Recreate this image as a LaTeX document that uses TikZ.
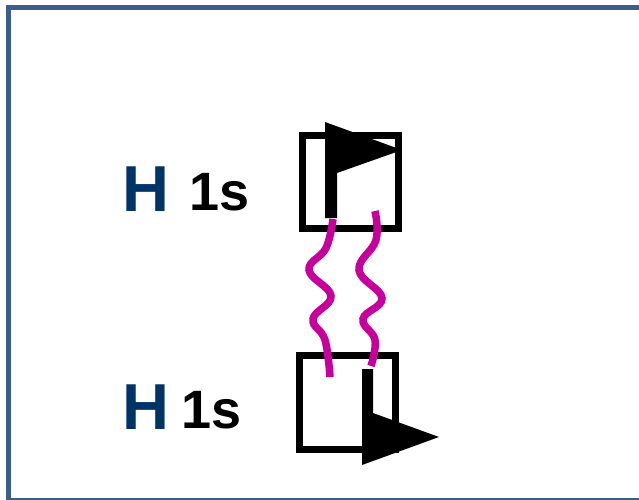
\documentclass[tikz,border=0pt]{standalone}
\usepackage{fontspec}
\setmainfont{Liberation Sans}
\definecolor{frameblue}{RGB}{59,94,140}
\definecolor{hblue}{RGB}{0,51,102}
\definecolor{bondmag}{RGB}{200,0,155}
\tikzset{
  orbital/.style={draw=black,line width=7pt,fill=white},
  spin/.style={fill=black,draw=none},
  bondwave/.style={draw=bondmag,line width=7.5pt,line cap=butt},
  atomlbl/.style={text=hblue,font=\bfseries\fontsize{65}{65}\selectfont,inner sep=0pt,anchor=base west},
  orblbl/.style={text=black,font=\bfseries\fontsize{54}{54}\selectfont,inner sep=0pt,anchor=base west}
}
\begin{document}
\begin{tikzpicture}[x=1pt,y=-1pt]
  \useasboundingbox (0,0) rectangle (639,499);
  \begin{scope}
    \clip (0,0) rectangle (639,499);
    \draw[frameblue,line width=5.5pt] (8.5,7.5) rectangle (660,500.5);
  \end{scope}

  % labels
  \node[atomlbl] (h1) at (122,211) {H};
  \node[orblbl] (s1) at (189,210) {1s};
  \node[atomlbl] (h2) at (122,429) {H};
  \node[orblbl] (s2) at (181,428) {1s};

  % orbital boxes
  \draw[orbital] (302.5,135.5) rectangle (398.5,228.5);
  \draw[orbital] (299.5,355.5) rectangle (395.5,449.5);

  % spin up (top) and spin down (bottom) half arrows
  \fill[spin] (325,122) -- (402,150) -- (337,173) -- (337,218) -- (325,218) -- cycle;
  \fill[spin] (362,369) -- (373,369) -- (373,413) -- (439,437) -- (362,465) -- cycle;

  % bonding waves
  \draw[bondwave] plot[smooth,tension=0.7] coordinates
    {(333,219) (326,248) (309,270) (331,296) (313,319) (325,340) (330,377)};
  \draw[bondwave] plot[smooth,tension=0.7] coordinates
    {(375,211) (376,240) (359,270) (382,298) (363,319) (375,340) (371,366)};
\end{tikzpicture}
\end{document}
